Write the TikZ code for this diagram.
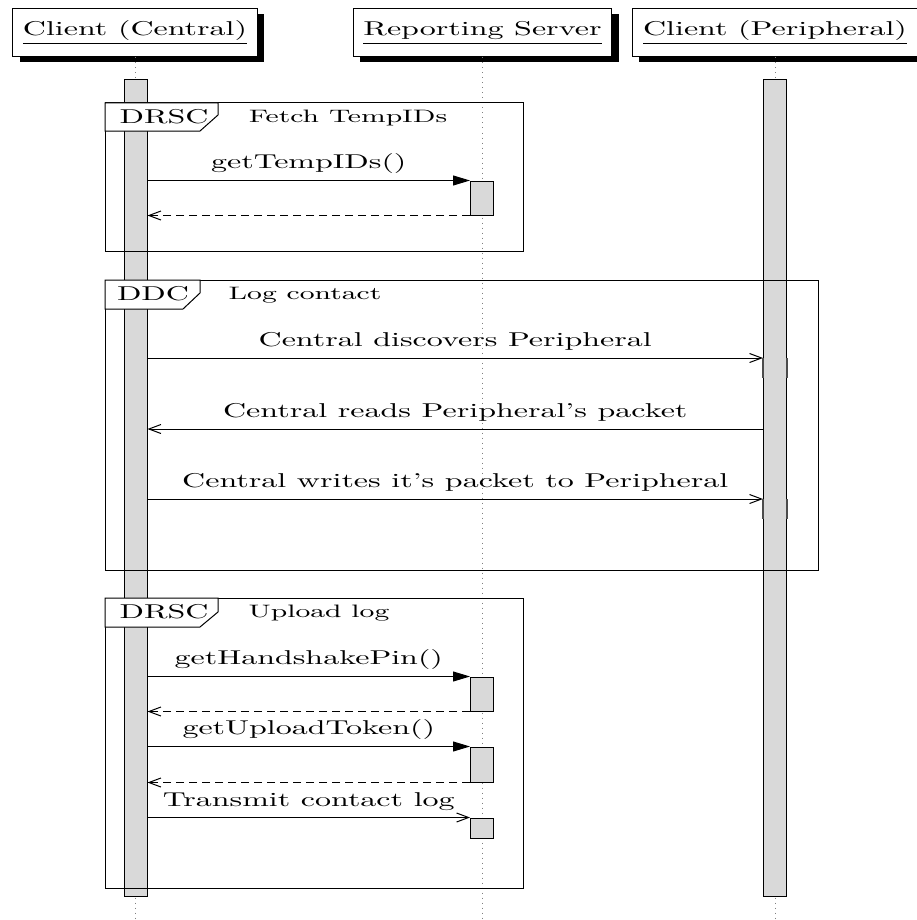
\documentclass[tikz,border=0pt]{standalone}
\usepackage{graphicx}
\usepackage{tikz}
\usetikzlibrary{shadows,arrows.meta}
\tikzset{
	inst/.style    = {draw, fill=white, minimum height=24pt, inner xsep=5pt,
		drop shadow = {shadow xshift=3.5pt, shadow yshift=-2.5pt, fill=black, opacity=1}},
	thread/.style  = {draw, fill=gray!30, inner sep=0pt, minimum width=11.5pt},
	life/.style    = {dotted, gray},
	call/.style    = {-{Triangle[length=8.5pt,width=5pt]}},
	async/.style   = {-{Straight Barb[length=6pt,width=4.5pt]}},
	retn/.style    = {async, dash pattern=on 4pt off 2.5pt},
	sdframe/.style = {draw},
	tagbox/.style  = {draw, fill=white},
	sdtitle/.style = {font=\small},
	nest/.style    = {line width=1pt, black!70}
}
\newcommand{\wide}[1]{\scalebox{1.6}[1]{#1}}

\begin{document}
\begin{tikzpicture}[x=0.5pt, y=-0.5pt, line width=0.5pt]
	\useasboundingbox (0,0) rectangle (916,920);
	\draw
	node at (135,33)[inst] (cen) {\wide{\underline{Client (Central)}}}
	node at (482.5,33)[inst] (srv) {\wide{\underline{Reporting Server}}}
	node at (775,33)[inst, minimum width=143pt] (per) {\wide{\underline{Client (Peripheral)}}};
	\coordinate (bot) at (0,918);
	
	\draw[life] (cen) -- (cen |- bot);
	\draw[life] (srv) -- (srv |- bot);
	\draw[life] (per) -- (per |- bot);
	
	% threads
	\draw
	node at (135.5,488)[thread, minimum height=408pt] (cthr) {}
	node at (775,488)[thread, minimum height=408pt] (pthr) {}
	node at (482,198)[thread, minimum height=17pt] (s1) {}
	node at (482,694)[thread, minimum height=17pt] (s2) {}
	node at (482,764.5)[thread, minimum height=17.5pt] (s3) {}
	node at (482,828)[thread, minimum height=10pt] (s4) {};
	
	% DRSC: Fetch TempIDs
	\draw[sdframe] (105,103) rectangle (523,251);
	\draw[tagbox] (105,103) -- (218,103) -- (218,115) -- (200,131) -- (105,131) -- cycle;
	\node at (164,117) (t1) {\wide{DRSC}};
	\node[sdtitle] at (348,118) (f1) {\wide{Fetch TempIDs}};
	\draw[call] (cthr.east |- s1.north) -- node[above] (l1) {\wide{getTempIDs()}} (s1.north west);
	\draw[retn] (s1.south west) -- (cthr.east |- s1.south);
	
	% DDC: Log contact
	\coordinate (m1) at (0,358);
	\coordinate (m2) at (0,429);
	\coordinate (m3) at (0,499);
	\draw[sdframe] (105,280) rectangle (818,570);
	\draw[tagbox] (105,280) -- (200,280) -- (200,293) -- (183,309) -- (105,309) -- cycle;
	\node at (153,294) (t2) {\wide{DDC}};
	\node[sdtitle] at (305,295) (f2) {\wide{Log contact}};
	\draw[async] (cthr.east |- m1) -- node[above] (l2) {\wide{Central discovers Peripheral}} (pthr.west |- m1);
	\draw[async] (pthr.west |- m2) -- node[above] (l3) {\wide{Central reads Peripheral's packet}} (cthr.east |- m2);
	\draw[async] (cthr.east |- m3) -- node[above] (l4) {\wide{Central writes it's packet to Peripheral}} (pthr.west |- m3);
	\draw[nest] (pthr.west |- m1) -- ++(0,20) (pthr.east |- m1) -- ++(0,20);
	\draw[nest] (pthr.west |- m3) -- ++(0,20) (pthr.east |- m3) -- ++(0,20);
	
	% DRSC: Upload log
	\draw[sdframe] (105,598) rectangle (523,888);
	\draw[tagbox] (105,598) -- (218,598) -- (218,612) -- (200,627) -- (105,627) -- cycle;
	\node at (164,612) (t3) {\wide{DRSC}};
	\node[sdtitle] at (319,613) (f3) {\wide{Upload log}};
	\draw[call] (cthr.east |- s2.north) -- node[above] (l5) {\wide{getHandshakePin()}} (s2.north west);
	\draw[retn] (s2.south west) -- (cthr.east |- s2.south);
	\draw[call] (cthr.east |- s3.north) -- node[above] (l6) {\wide{getUploadToken()}} (s3.north west);
	\draw[retn] (s3.south west) -- (cthr.east |- s3.south);
	\draw[async] (cthr.east |- s4.north) -- node[above] (l7) {\wide{Transmit contact log}} (s4.north west);
\end{tikzpicture}
\end{document}
